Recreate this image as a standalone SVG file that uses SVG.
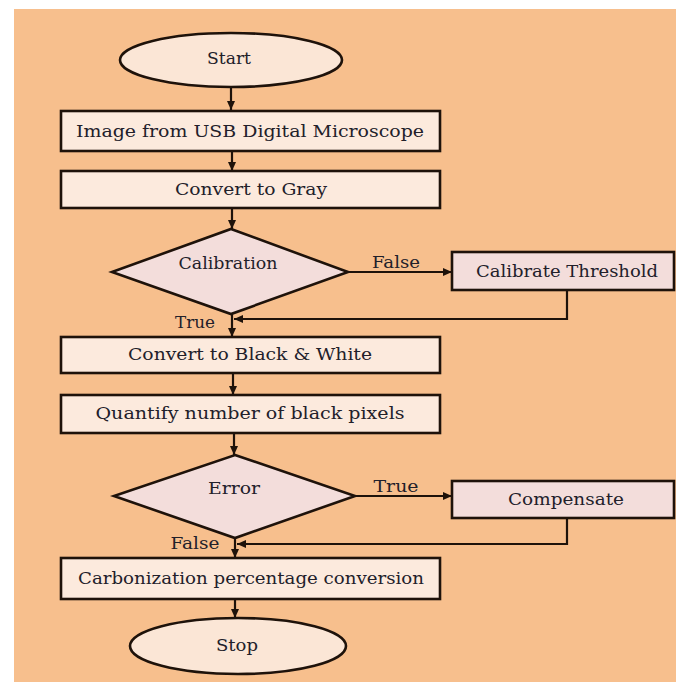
<svg xmlns="http://www.w3.org/2000/svg" width="676" height="682" viewBox="0 0 676 682">
<defs>
<style>
.box{fill:#FCEADD;stroke:#1E120A;stroke-width:2.6}
.side{fill:#F3DDDB;stroke:#1E120A;stroke-width:2.6}
.dia{fill:#F3DDDB;stroke:#1E120A;stroke-width:2.6}
.term{fill:#FBE6D6;stroke:#1E120A;stroke-width:2.6}
.con{fill:none;stroke:#1E120A;stroke-width:2.2}
text{font-family:"DejaVu Serif","Liberation Serif",serif;font-size:16px;fill:#22202A}
.c{text-anchor:middle}
</style>
<marker id="ah" markerUnits="userSpaceOnUse" markerWidth="9" markerHeight="8" refX="9" refY="4" orient="auto">
<path d="M0,0 L9,4 L0,8 z" fill="#1E120A"/>
</marker>
</defs>
<rect x="0" y="0" width="676" height="682" fill="#FFFFFF"/>
<rect x="14" y="9" width="662" height="673" fill="#F7BF8D"/>
<g id="connectors">
<path class="con" d="M231,88 L231,110" marker-end="url(#ah)"/>
<path class="con" d="M232,151 L232,171" marker-end="url(#ah)"/>
<path class="con" d="M232,208 L232,229" marker-end="url(#ah)"/>
<path class="con" d="M348,272 L452,272" marker-end="url(#ah)"/>
<path class="con" d="M567,290 V319 H234" marker-end="url(#ah)"/>
<path class="con" d="M232,314 L232,337" marker-end="url(#ah)"/>
<path class="con" d="M233,373 L233,395" marker-end="url(#ah)"/>
<path class="con" d="M234,433 L234,455" marker-end="url(#ah)"/>
<path class="con" d="M355,496 L452,496" marker-end="url(#ah)"/>
<path class="con" d="M567,518 V544 H237" marker-end="url(#ah)"/>
<path class="con" d="M235,538 L235,558" marker-end="url(#ah)"/>
<path class="con" d="M235,599 L235,618" marker-end="url(#ah)"/>
<text x="396" y="268" class="c" textLength="48" lengthAdjust="spacingAndGlyphs">False</text>
<text x="195" y="328" class="c" textLength="40" lengthAdjust="spacingAndGlyphs">True</text>
<text x="396" y="492" class="c" textLength="45" lengthAdjust="spacingAndGlyphs">True</text>
<text x="195" y="549" class="c" textLength="49" lengthAdjust="spacingAndGlyphs">False</text>
</g>
<g id="start">
<ellipse class="term" cx="231" cy="60" rx="111" ry="27"/>
<text x="229" y="64" class="c" textLength="44" lengthAdjust="spacingAndGlyphs">Start</text>
</g>
<g id="image">
<rect class="box" x="61" y="111" width="379" height="40"/>
<text x="250" y="137" class="c" textLength="348" lengthAdjust="spacingAndGlyphs">Image from USB Digital Microscope</text>
</g>
<g id="gray">
<rect class="box" x="61" y="171" width="379" height="37"/>
<text x="251" y="195" class="c" textLength="152" lengthAdjust="spacingAndGlyphs">Convert to Gray</text>
</g>
<g id="calibration">
<polygon class="dia" points="231,229 348,272 231,314 112,272"/>
<text x="228" y="269" class="c" textLength="99" lengthAdjust="spacingAndGlyphs">Calibration</text>
</g>
<g id="threshold">
<rect class="side" x="452" y="252" width="222" height="38"/>
<text x="567" y="277" class="c" textLength="182" lengthAdjust="spacingAndGlyphs">Calibrate Threshold</text>
</g>
<g id="bw">
<rect class="box" x="61" y="337" width="379" height="36"/>
<text x="250" y="360" class="c" textLength="244" lengthAdjust="spacingAndGlyphs">Convert to Black &amp; White</text>
</g>
<g id="quantify">
<rect class="box" x="61" y="395" width="379" height="38"/>
<text x="250" y="419" class="c" textLength="309" lengthAdjust="spacingAndGlyphs">Quantify number of black pixels</text>
</g>
<g id="error">
<polygon class="dia" points="235,455 355,496 235,538 114,496"/>
<text x="234" y="494" class="c" textLength="52" lengthAdjust="spacingAndGlyphs">Error</text>
</g>
<g id="compensate">
<rect class="side" x="452" y="481" width="222" height="37"/>
<text x="566" y="505" class="c" textLength="116" lengthAdjust="spacingAndGlyphs">Compensate</text>
</g>
<g id="carbonization">
<rect class="box" x="61" y="558" width="379" height="41"/>
<text x="251" y="584" class="c" textLength="346" lengthAdjust="spacingAndGlyphs">Carbonization percentage conversion</text>
</g>
<g id="stop">
<ellipse class="term" cx="238" cy="646" rx="108" ry="28"/>
<text x="237" y="651" class="c" textLength="42" lengthAdjust="spacingAndGlyphs">Stop</text>
</g>
</svg>
